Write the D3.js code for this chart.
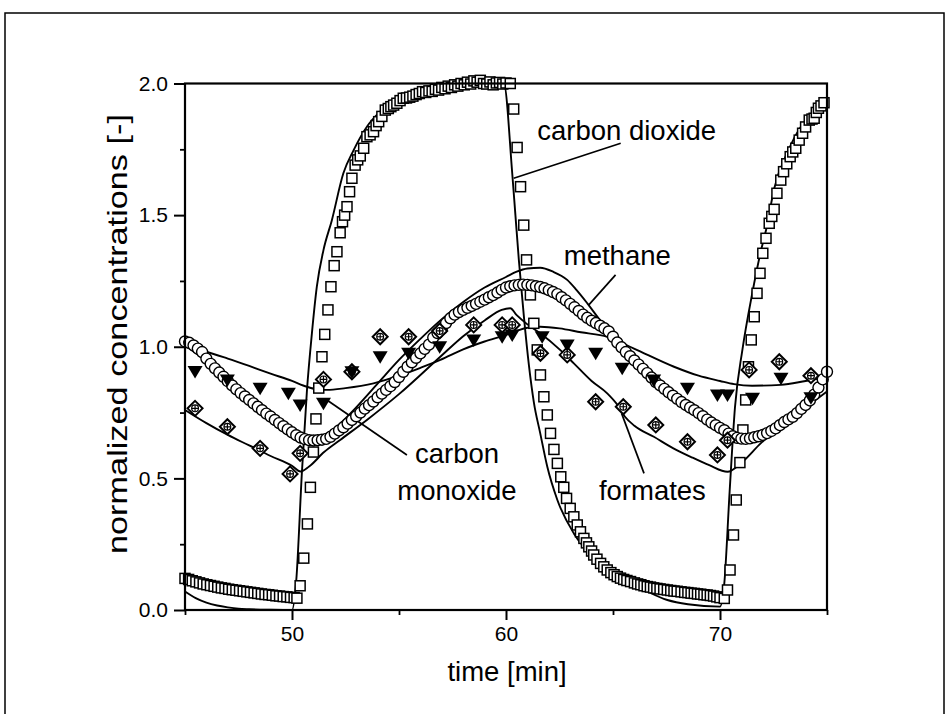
<!DOCTYPE html>
<html><head><meta charset="utf-8">
<script src="https://cdn.jsdelivr.net/npm/d3@7"></script>
<style>body{margin:0;background:#fff} text{font-family:"Liberation Sans",Arial,Helvetica,sans-serif;fill:#000}</style>
</head><body><svg id="c" width="948" height="714"></svg>
<script>
// ---------- DATA ----------
const xTicksMajor = [50, 60, 70];
const xTicksMinor = [45, 55, 65, 75];
const yTicksMajor = [0, 0.5, 1.0, 1.5, 2.0];
const yTicksMinor = [0.25, 0.75, 1.25, 1.75];
const xLabel = "time [min]";
const yLabel = "normalized concentrations [-]";

// carbon dioxide measured (open squares) [time, value]
const co2Meas = [
[45.00,0.120],[45.17,0.116],[45.34,0.111],[45.51,0.107],[45.68,0.103],[45.85,0.099],[46.02,0.096],[46.19,0.093],
[46.36,0.090],[46.53,0.087],[46.70,0.084],[46.87,0.082],[47.04,0.079],[47.21,0.077],[47.38,0.075],[47.55,0.073],
[47.72,0.071],[47.89,0.069],[48.06,0.067],[48.23,0.065],[48.40,0.063],[48.57,0.061],[48.74,0.059],[48.91,0.058],
[49.08,0.056],[49.25,0.054],[49.42,0.053],[49.59,0.051],[49.76,0.050],[49.93,0.048],[50.10,0.047],[50.23,0.045],
[50.38,0.092],[50.55,0.197],[50.72,0.327],[50.86,0.466],[51.00,0.600],[51.12,0.726],[51.25,0.843],[51.40,0.962],
[51.53,1.047],[51.68,1.140],[51.82,1.228],[51.97,1.308],[52.10,1.361],[52.25,1.433],[52.36,1.475],[52.46,1.500],
[52.57,1.532],[52.69,1.589],[52.80,1.640],[52.95,1.690],[53.07,1.710],[53.19,1.725],[53.35,1.754],[53.50,1.798],
[53.65,1.805],[53.81,1.817],[53.93,1.840],[54.05,1.855],[54.20,1.875],[54.36,1.899],[54.50,1.905],[54.62,1.912],
[54.75,1.918],[54.90,1.925],[55.05,1.935],[55.20,1.944],[55.35,1.945],[55.50,1.948],[55.65,1.952],[55.80,1.958],
[55.95,1.962],[56.10,1.969],[56.25,1.966],[56.40,1.972],[56.55,1.970],[56.70,1.978],[56.85,1.975],[57.00,1.985],
[57.15,1.980],[57.30,1.990],[57.45,1.985],[57.60,1.995],[57.75,1.990],[57.90,2.000],[58.05,1.995],[58.20,2.005],
[58.35,1.998],[58.50,2.010],[58.65,2.005],[58.80,2.012],[58.95,2.000],[59.10,1.998],[59.25,2.006],[59.40,1.995],
[59.55,2.002],[59.70,2.004],[59.85,1.998],[60.00,2.002],[60.20,2.000],
[60.36,1.903],[60.52,1.757],[60.68,1.608],[60.83,1.462],[60.96,1.330],[61.14,1.197],[61.30,1.089],[61.46,0.988],
[61.61,0.893],[61.77,0.810],[61.93,0.741],[62.08,0.671],[62.24,0.610],[62.40,0.557],[62.56,0.506],[62.70,0.466],
[62.83,0.424],[63.00,0.386],[63.17,0.354],[63.33,0.323],[63.48,0.297],[63.64,0.272],[63.76,0.255],[63.87,0.240],
[64.00,0.224],[64.10,0.209],[64.25,0.193],[64.42,0.177],[64.57,0.164],[64.73,0.152],[64.90,0.142],[65.05,0.134],
[65.20,0.127],[65.35,0.121],[65.50,0.116],[65.65,0.112],[65.82,0.108],[66.00,0.103],[66.15,0.099],[66.30,0.096],
[66.45,0.092],[66.60,0.089],[66.75,0.087],[66.90,0.084],[67.05,0.082],[67.20,0.080],[67.37,0.078],[67.54,0.076],
[67.70,0.074],[67.85,0.072],[68.00,0.071],[68.18,0.069],[68.35,0.067],[68.50,0.066],[68.65,0.064],[68.80,0.063],
[68.95,0.061],[69.10,0.060],[69.25,0.058],[69.40,0.057],[69.55,0.055],[69.70,0.053],[69.85,0.050],[70.00,0.047],
[70.20,0.044],[70.35,0.076],[70.47,0.152],[70.63,0.285],[70.76,0.418],[70.93,0.560],[71.07,0.684],[71.20,0.798],
[71.33,0.924],[71.46,1.026],[71.60,1.114],[71.73,1.203],[71.87,1.279],[72.00,1.355],[72.15,1.412],[72.30,1.469],
[72.42,1.495],[72.53,1.522],[72.66,1.583],[72.84,1.633],[72.97,1.665],[73.12,1.695],[73.28,1.722],[73.40,1.740],
[73.54,1.754],[73.70,1.785],[73.86,1.811],[74.00,1.835],[74.17,1.861],[74.30,1.865],[74.40,1.868],[74.50,1.890],
[74.60,1.906],[74.72,1.915],[74.86,1.927]
];

// methane measured (open circles)
const ch4Meas = [
[45.0,1.020],[45.2,1.015],[45.4,1.005],[45.6,0.993],[45.8,0.980],[46.0,0.955],[46.2,0.935],[46.4,0.918],[46.6,0.902],
[46.8,0.886],[47.0,0.869],[47.2,0.853],[47.4,0.838],[47.6,0.824],[47.8,0.811],[48.0,0.798],[48.2,0.785],[48.4,0.772],
[48.6,0.759],[48.8,0.746],[49.0,0.735],[49.2,0.722],[49.4,0.710],[49.6,0.698],[49.8,0.686],[50.0,0.675],[50.2,0.664],
[50.4,0.655],[50.6,0.649],[50.8,0.645],[51.0,0.644],[51.2,0.645],[51.4,0.647],[51.6,0.650],[51.8,0.658],[52.0,0.670],
[52.2,0.682],[52.4,0.694],[52.6,0.708],[52.8,0.722],[53.0,0.736],[53.2,0.750],[53.4,0.765],[53.6,0.778],[53.8,0.792],
[54.0,0.808],[54.2,0.822],[54.4,0.836],[54.6,0.850],[54.8,0.866],[55.0,0.885],[55.2,0.905],[55.4,0.924],[55.6,0.941],
[55.8,0.958],[56.0,0.975],[56.2,0.992],[56.4,1.008],[56.6,1.035],[56.8,1.052],[57.0,1.068],[57.2,1.090],[57.4,1.108],
[57.6,1.122],[57.8,1.132],[58.0,1.140],[58.2,1.148],[58.4,1.155],[58.6,1.163],[58.8,1.171],[59.0,1.179],[59.2,1.188],
[59.4,1.196],[59.6,1.206],[59.8,1.216],[60.0,1.225],[60.2,1.230],[60.4,1.233],[60.6,1.235],[60.8,1.236],[61.0,1.235],
[61.2,1.233],[61.4,1.230],[61.6,1.227],[61.8,1.222],[62.0,1.215],[62.2,1.208],[62.4,1.200],[62.6,1.188],[62.8,1.176],
[63.0,1.163],[63.2,1.150],[63.4,1.136],[63.6,1.122],[63.8,1.110],[64.0,1.099],[64.2,1.090],[64.4,1.080],[64.6,1.070],
[64.8,1.058],[65.0,1.038],[65.2,1.016],[65.4,0.998],[65.6,0.980],[65.8,0.964],[66.0,0.948],[66.2,0.932],[66.4,0.916],
[66.6,0.900],[66.8,0.883],[67.0,0.866],[67.2,0.853],[67.4,0.840],[67.6,0.827],[67.8,0.814],[68.0,0.802],[68.2,0.790],
[68.4,0.779],[68.6,0.769],[68.8,0.759],[69.0,0.748],[69.2,0.736],[69.4,0.723],[69.6,0.712],[69.8,0.702],[70.0,0.692],
[70.2,0.683],[70.4,0.670],[70.6,0.660],[70.8,0.654],[71.0,0.651],[71.2,0.650],[71.4,0.652],[71.6,0.656],[71.8,0.660],
[72.0,0.665],[72.2,0.672],[72.4,0.680],[72.6,0.690],[72.8,0.702],[73.0,0.714],[73.2,0.724],[73.4,0.734],[73.6,0.748],
[73.8,0.764],[74.0,0.779],[74.2,0.796],[74.4,0.818],[74.6,0.845],[74.8,0.876],[75.0,0.905]
];

// carbon monoxide measured (filled down triangles)
const coMeas = [
[45.47,0.906],[46.98,0.874],[48.51,0.842],[49.83,0.823],[50.38,0.779],[51.47,0.785],[52.80,0.905],[54.12,0.962],
[55.45,0.975],[56.90,1.000],[58.49,1.026],[59.82,1.038],[60.29,1.045],[61.69,1.038],[62.86,1.007],[64.19,0.975],
[65.43,0.918],[66.90,0.874],[68.48,0.842],[69.88,0.817],[70.35,0.817],[71.52,0.804],[72.85,0.880],[74.25,0.806]
];

// formates measured (crossed diamonds)
const formMeas = [
[45.47,0.766],[46.98,0.696],[48.51,0.614],[49.91,0.517],[50.38,0.595],[51.47,0.876],[52.80,0.905],[54.12,1.038],
[55.45,1.038],[56.90,1.060],[58.49,1.083],[59.82,1.083],[60.29,1.083],[61.61,0.975],[62.86,0.969],[64.19,0.791],
[65.48,0.772],[67.00,0.703],[68.48,0.639],[69.88,0.589],[70.35,0.645],[71.36,0.912],[72.77,0.943],[74.25,0.890]
];

// model curves (solid lines)
const co2Model = [
[45.0,0.070],[45.5,0.045],[46.0,0.028],[46.5,0.017],[47.0,0.010],[47.5,0.005],[48.0,0.003],[49.0,0.001],[50.0,0.000],
[50.2,0.114],[50.46,0.519],[50.7,0.836],[50.93,1.051],[51.16,1.228],[51.47,1.367],[51.86,1.480],[52.4,1.659],
[52.88,1.747],[53.5,1.836],[54.12,1.893],[55.06,1.944],[56.15,1.970],[57.0,1.983],[58.0,1.992],[59.0,1.996],
[59.9,1.998],[60.29,1.660],[60.44,1.500],[60.6,1.330],[60.83,1.120],[61.07,0.930],[61.3,0.790],[61.6,0.671],
[61.93,0.544],[62.4,0.418],[63.17,0.291],[64.27,0.190],[65.67,0.114],[67.54,0.038],[68.5,0.022],[70.0,0.013],
[70.2,0.100],[70.45,0.450],[70.7,0.770],[71.05,0.990],[71.5,1.200],[71.9,1.360],[72.17,1.450],[72.53,1.600],
[73.16,1.740],[73.78,1.836],[74.56,1.900],[75.0,1.940]
];
const ch4Model = [
[45,1.005],[46,0.945],[47,0.872],[48,0.802],[49,0.742],[50,0.688],[50.5,0.662],[51,0.650],[51.5,0.660],[52,0.690],
[53,0.770],[54,0.860],[55,0.950],[56,1.030],[57,1.105],[58,1.170],[59,1.225],[60,1.265],[60.5,1.285],[61,1.297],
[61.6,1.300],[62.2,1.285],[62.86,1.254],[63.3,1.215],[63.8,1.165],[64.73,1.064],[65.67,0.975],[66.5,0.900],
[67.5,0.828],[68.5,0.765],[69.5,0.705],[70.3,0.668],[70.8,0.655],[71.3,0.650],[72,0.662],[73,0.712],[74,0.780],[75,0.880]
];
const coModel = [
[45,1.000],[46,0.981],[47,0.955],[48,0.927],[49,0.898],[50,0.870],[50.7,0.848],[51.2,0.838],[51.63,0.836],[52.5,0.843],
[53.81,0.861],[55,0.890],[56,0.920],[56.93,0.950],[58,0.990],[59,1.020],[60,1.045],[60.5,1.060],[61,1.072],[61.6,1.076],
[62.5,1.070],[63.5,1.055],[64.73,1.038],[65.98,0.993],[67.85,0.924],[69,0.890],[70,0.870],[70.66,0.858],[71.5,0.852],
[72.84,0.855],[74,0.870],[75,0.885]
];
const formModel = [
[45,0.760],[46,0.710],[47,0.665],[48,0.625],[49,0.585],[50,0.548],[50.4,0.526],[50.8,0.545],[51.5,0.600],[52.25,0.646],
[53.5,0.722],[55,0.820],[56.93,0.962],[58,1.040],[59,1.100],[59.8,1.140],[60.2,1.146],[60.5,1.120],[61,1.085],[61.6,1.051],
[62.5,0.990],[63.17,0.937],[64,0.870],[64.73,0.823],[65.2,0.780],[65.55,0.735],[66,0.700],[66.91,0.658],[67.8,0.615],
[68.63,0.582],[69.5,0.550],[70.35,0.525],[70.97,0.557],[71.9,0.633],[73,0.710],[74,0.770],[75,0.830]
];

// annotations: label text, anchor time/value, pointer from/to (time, value)
const annoText = ["carbon dioxide", "methane", "carbon", "monoxide", "formates"];
const annoPos = [[61.46,1.785,"start"],[62.70,1.311,"start"],[57.71,0.557,"middle"],[57.71,0.418,"middle"],[64.34,0.418,"start"]];
const pointers = [
  [[65.36,1.773],[60.36,1.640]],
  [[65.12,1.273],[63.87,1.159]],
  [[55.37,0.589],[51.63,0.798]],
  [[66.45,0.519],[65.40,0.747]]
];

// ---------- DRAW ----------
const svg = d3.select("#c");
svg.append("rect").attr("x",0).attr("y",0).attr("width",948).attr("height",714).attr("fill","#fff");
// outer frame
svg.append("rect").attr("x",5).attr("y",13).attr("width",939).attr("height",740)
  .attr("fill","none").attr("stroke","#000").attr("stroke-width",1.5);

const x = d3.scaleLinear().domain([45,75]).range([185,827]);
const y = d3.scaleLinear().domain([0,2]).range([610,83.5]);

const g = svg.append("g");

// model lines
const line = d3.line().x(d=>x(d[0])).y(d=>y(d[1])).curve(d3.curveMonotoneX);
[co2Model, ch4Model, coModel, formModel].forEach(s=>{
  g.append("path").attr("d", line(s)).attr("fill","none").attr("stroke","#000").attr("stroke-width",1.9);
});

// pointers
pointers.forEach(p=>{
  g.append("line").attr("x1",x(p[0][0])).attr("y1",y(p[0][1])).attr("x2",x(p[1][0])).attr("y2",y(p[1][1]))
   .attr("stroke","#000").attr("stroke-width",1.7);
});

// squares
g.append("g").selectAll("rect").data(co2Meas).join("rect")
  .attr("x",d=>x(d[0])-5).attr("y",d=>y(d[1])-5).attr("width",10).attr("height",10)
  .attr("fill","#fff").attr("stroke","#000").attr("stroke-width",1.5);

// circles
g.append("g").selectAll("circle").data(ch4Meas).join("circle")
  .attr("cx",d=>x(d[0])).attr("cy",d=>y(d[1])).attr("r",5.5)
  .attr("fill","#fff").attr("stroke","#000").attr("stroke-width",1.4);

// crossed diamonds
const dg = g.append("g").selectAll("g").data(formMeas).join("g")
  .attr("transform",d=>`translate(${x(d[0])},${y(d[1])})`);
dg.append("path").attr("d","M0,-7.5L7.5,0L0,7.5L-7.5,0Z").attr("fill","#fff").attr("stroke","#000").attr("stroke-width",2);
dg.append("circle").attr("r",3.4).attr("fill","none").attr("stroke","#000").attr("stroke-width",1.2);
dg.append("path").attr("d","M-3.4,0H3.4M0,-3.4V3.4").attr("stroke","#000").attr("stroke-width",1.2);

// triangles
g.append("g").selectAll("path").data(coMeas).join("path")
  .attr("transform",d=>`translate(${x(d[0])},${y(d[1])})`)
  .attr("d","M-7.5,-5.5L7.5,-5.5L0,7Z").attr("fill","#000");

// plot box
svg.append("rect").attr("x",185).attr("y",83.5).attr("width",642).attr("height",526.5)
  .attr("fill","none").attr("stroke","#000").attr("stroke-width",2.2);

// axes
const ax = svg.append("g").attr("transform","translate(0,610)")
  .call(d3.axisBottom(x).tickValues(xTicksMajor).tickFormat(d3.format("d")).tickSize(10).tickPadding(6));
const ay = svg.append("g").attr("transform","translate(185,0)")
  .call(d3.axisLeft(y).tickValues(yTicksMajor).tickFormat(d3.format(".1f")).tickSize(11).tickPadding(6));
[ax, ay].forEach(a=>{
  a.attr("font-size",null).attr("font-family",null);
  a.select(".domain").remove();
  a.selectAll(".tick line").attr("stroke","#000").attr("stroke-width",2);
  a.selectAll(".tick text").style("font-size","21px").style("font-family","'Liberation Sans', Arial, sans-serif").attr("fill","#000");
});
svg.append("g").attr("transform","translate(0,610)")
  .call(d3.axisBottom(x).tickValues(xTicksMinor).tickFormat("").tickSize(5))
  .call(s=>{s.select(".domain").remove(); s.selectAll("line").attr("stroke-width",1.8);});
svg.append("g").attr("transform","translate(185,0)")
  .call(d3.axisLeft(y).tickValues(yTicksMinor).tickFormat("").tickSize(5))
  .call(s=>{s.select(".domain").remove(); s.selectAll("line").attr("stroke-width",1.8);});

// axis titles
svg.append("text").attr("x",507).attr("y",681).attr("text-anchor","middle").attr("font-size",27.5).text(xLabel);
svg.append("text").attr("transform","translate(127,334) rotate(-90)").attr("text-anchor","middle")
  .attr("font-size",28).attr("textLength",440).attr("lengthAdjust","spacingAndGlyphs").text(yLabel);

// annotation labels
annoText.forEach((t,i)=>{
  svg.append("text").attr("x",x(annoPos[i][0])).attr("y",y(annoPos[i][1]))
    .attr("text-anchor",annoPos[i][2]).attr("font-size",27.5).text(t);
});
</script></body></html>
